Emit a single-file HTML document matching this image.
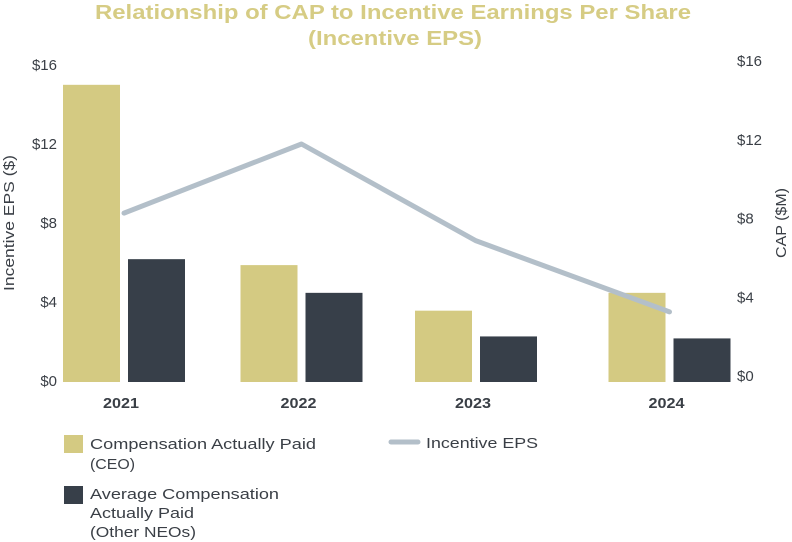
<!DOCTYPE html>
<html><head><meta charset="utf-8"><style>
body{margin:0;background:#fff;width:792px;height:542px;overflow:hidden}
svg{display:block;font-family:"Liberation Sans",sans-serif}
</style></head><body>
<svg id="c" width="792" height="542" viewBox="0 0 792 542">
<text x="393" y="19" text-anchor="middle" font-size="20" font-weight="bold" fill="#d6cc84" textLength="596" lengthAdjust="spacingAndGlyphs">Relationship of CAP to Incentive Earnings Per Share</text>
<text x="395" y="45" text-anchor="middle" font-size="20" font-weight="bold" fill="#d6cc84" textLength="174" lengthAdjust="spacingAndGlyphs">(Incentive EPS)</text>
<text transform="translate(14,223) rotate(-90)" text-anchor="middle" font-size="15" fill="#3a3f46" textLength="136" lengthAdjust="spacingAndGlyphs">Incentive EPS ($)</text>
<text transform="translate(786,223) rotate(-90)" text-anchor="middle" font-size="15" fill="#3a3f46" textLength="70" lengthAdjust="spacingAndGlyphs">CAP ($M)</text>
<g id="bars"></g><g id="line"></g><g id="axes"></g>
<g>
<rect x="64" y="435" width="19" height="18" fill="#d4ca82"/>
<text x="90" y="449" font-size="15" fill="#3a3f46"><tspan x="90" textLength="226" lengthAdjust="spacingAndGlyphs">Compensation Actually Paid</tspan><tspan x="90" dy="20" textLength="45" lengthAdjust="spacingAndGlyphs">(CEO)</tspan></text>
<rect x="64" y="486" width="19" height="18" fill="#373f49"/>
<text x="90" y="499" font-size="15" fill="#3a3f46"><tspan x="90" textLength="189" lengthAdjust="spacingAndGlyphs">Average Compensation</tspan><tspan x="90" dy="19" textLength="104" lengthAdjust="spacingAndGlyphs">Actually Paid</tspan><tspan x="90" dy="19" textLength="106" lengthAdjust="spacingAndGlyphs">(Other NEOs)</tspan></text>
<line x1="391" y1="442" x2="418" y2="442" stroke="#b3bfc9" stroke-width="5" stroke-linecap="round"/>
<text x="426" y="448" font-size="15" fill="#3a3f46" textLength="112" lengthAdjust="spacingAndGlyphs">Incentive EPS</text>
</g>
</svg>
<script>
const years=["2021","2022","2023","2024"];
const capCeo=[15.0,5.9,3.6,4.5];
const capNeo=[6.2,4.5,2.3,2.2];
const eps=[8.5,12.0,7.1,3.5];
const ticks=[0,4,8,12,16];
const ns="http://www.w3.org/2000/svg";
const centers=[124,301.5,476,669.5];
function yL(v){return 381-v*(316/16);}
function yR(v){return 376-v*(315/16);}
function yB(v){return 382-v*(317/16);}
function mk(t,a,p){const e=document.createElementNS(ns,t);for(const k in a)e.setAttribute(k,a[k]);p.appendChild(e);return e;}
const gb=document.getElementById('bars'),gl=document.getElementById('line'),ga=document.getElementById('axes');
years.forEach((y,i)=>{
 const c=centers[i];
 const r1=mk('rect',{x:c-61,y:yB(capCeo[i]),width:57,height:yB(0)-yB(capCeo[i]),fill:'#d4ca82'},gb);
 
 
 const r2=mk('rect',{x:c+4,y:yB(capNeo[i]),width:57,height:yB(0)-yB(capNeo[i]),fill:'#373f49'},gb);
 
 
 const t=mk('text',{x:c-3,y:408,'text-anchor':'middle','font-size':'15','font-weight':'bold',fill:'#3a3f46',textLength:36,lengthAdjust:'spacingAndGlyphs'},ga);
 t.textContent=y;
 
 
});
const pl=mk('polyline',{points:eps.map((v,i)=>centers[i]+','+yL(v)).join(' '),fill:'none',stroke:'#b3bfc9','stroke-width':5,'stroke-linecap':'round','stroke-linejoin':'round'},gl);


ticks.forEach(v=>{
 const a=mk('text',{x:57,y:yL(v)+5,'text-anchor':'end','font-size':'15',fill:'#3a3f46'},ga);
 a.textContent='$'+v;
 
 
 const b=mk('text',{x:737,y:yR(v)+5,'font-size':'15',fill:'#3a3f46'},ga);
 b.textContent='$'+v;
 
 
});
</script>
</body></html>
